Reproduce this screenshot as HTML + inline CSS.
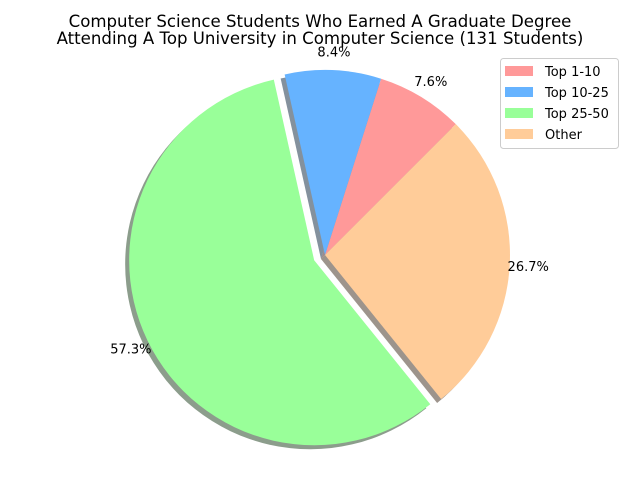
<!DOCTYPE html>
<html><head><meta charset="utf-8"><style>
body{margin:0;background:#fff}
svg{font-family:"DejaVu Sans","Liberation Sans",sans-serif}
</style></head><body>
<svg id="chart" width="640" height="480" viewBox="0 0 640 480">
<rect width="640" height="480" fill="#fff"/>
<text x="320" y="27" text-anchor="middle" font-size="16.6">Computer Science Students Who Earned A Graduate Degree</text>
<text x="320" y="44" text-anchor="middle" font-size="16.6">Attending A Top University in Computer Science (131 Students)</text>
<g id="shadows"></g><g id="slices"></g><g id="labels"></g>
<g>
<rect x="500.5" y="58.5" width="118" height="90" rx="3" fill="#fff" fill-opacity="0.8" stroke="#ccc"/>
<g id="legend-items"></g>
</g>
</svg>
<script>
const categories=["Top 1-10","Top 10-25","Top 25-50","Other"];
const values=[7.6,8.4,57.3,26.7];
const colors=["#ff9999","#66b3ff","#99ff99","#ffcc99"];
const explode=[0,0,0.065,0];
const cx=325,cy=255,R=185,start=45;
const NS="http://www.w3.org/2000/svg";
const total=values.reduce((a,b)=>a+b,0);
function pt(a,r,ox,oy){const t=a*Math.PI/180;return [ox+r*Math.cos(t),oy-r*Math.sin(t)];}
function wedge(a0,a1,ox,oy){const p0=pt(a0,R,ox,oy),p1=pt(a1,R,ox,oy);const large=(a1-a0)>180?1:0;
return `M${ox},${oy}L${p0[0]},${p0[1]}A${R},${R} 0 ${large} 0 ${p1[0]},${p1[1]}Z`;}
function shade(c){const n=parseInt(c.slice(1),16);const f=v=>Math.round(v*0.3);return `rgb(${f(n>>16)},${f((n>>8)&255)},${f(n&255)})`;}
let a=start;
const sh=document.getElementById('shadows'),sl=document.getElementById('slices'),lb=document.getElementById('labels');
values.forEach((v,i)=>{
  const span=v/total*360,mid=a+span/2;
  const [ox,oy]=pt(mid,explode[i]*R,cx,cy);
  const s=document.createElementNS(NS,'path');
  s.setAttribute('d',wedge(a,a+span,ox-4,oy+4));s.setAttribute('fill',shade(colors[i]));s.setAttribute('fill-opacity','0.55');
  
  
  sh.appendChild(s);
  const p=document.createElementNS(NS,'path');
  p.setAttribute('d',wedge(a,a+span,ox,oy));p.setAttribute('fill',colors[i]);
  
  
  sl.appendChild(p);
  const [tx,ty]=pt(mid,(1.1+explode[i])*R,cx,cy);
  const t=document.createElementNS(NS,'text');
  t.setAttribute('x',tx);t.setAttribute('y',ty+5);t.setAttribute('text-anchor','middle');t.setAttribute('font-size','13');
  t.textContent=v.toFixed(1)+'%';
  
  
  lb.appendChild(t);
  a+=span;
});
const lg=document.getElementById('legend-items');
categories.forEach((c,i)=>{
  const y=66+i*21;
  const r=document.createElementNS(NS,'rect');
  r.setAttribute('x',505);r.setAttribute('y',y);r.setAttribute('width',28);r.setAttribute('height',10);r.setAttribute('fill',colors[i]);
  
  
  lg.appendChild(r);
  const t=document.createElementNS(NS,'text');
  t.setAttribute('x',545);t.setAttribute('y',y+10);t.setAttribute('font-size','13');t.textContent=c;
  
  
  lg.appendChild(t);
});
</script>
</body></html>
